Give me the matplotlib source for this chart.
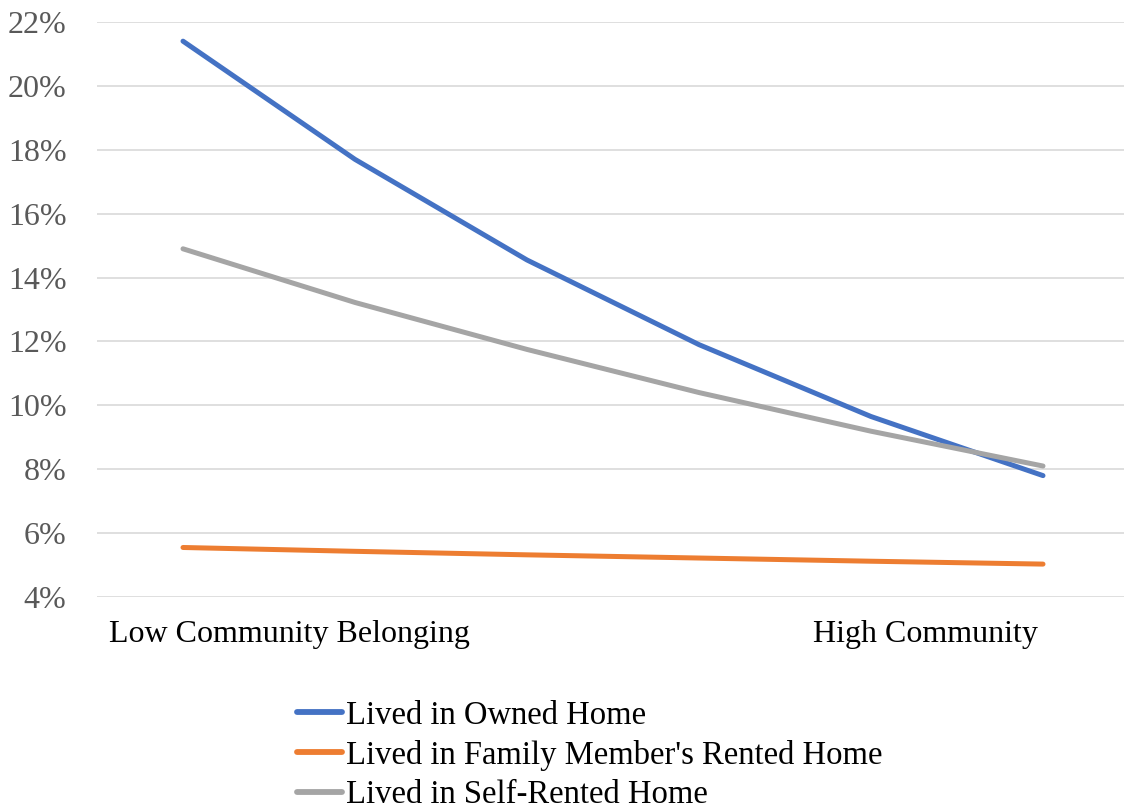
import matplotlib
matplotlib.use("Agg")
import matplotlib.pyplot as plt
from matplotlib.ticker import FuncFormatter

# Share of respondents by community belonging level (6 steps, low -> high)
steps = [0, 1, 2, 3, 4, 5]
owned = [21.4, 17.7, 14.55, 11.9, 9.65, 7.8]
family_rented = [5.55, 5.43, 5.32, 5.22, 5.12, 5.03]
self_rented = [14.9, 13.22, 11.75, 10.4, 9.19, 8.1]

series_names = ["Lived in Owned Home",
                "Lived in Family Member's Rented Home",
                "Lived in Self-Rented Home"]
colors = ["#4472C4", "#ED7D31", "#A5A5A5"]
y_ticks = [4, 6, 8, 10, 12, 14, 16, 18, 20, 22]

plt.rcParams["font.family"] = ["Liberation Serif", "DejaVu Serif"]

W, H = 1124, 808
fig = plt.figure(figsize=(W / 100, H / 100), dpi=100)
# axes placed in pixel terms: plot area from x=97 to 1129, y=22 to 597
left, right, top, bottom = 97, 1129, 22, 597
ax = fig.add_axes([left / W, 1 - bottom / H, (right - left) / W, (bottom - top) / H])

for vals, name, c in zip([owned, family_rented, self_rented], series_names, colors):
    ax.plot(steps, vals, color=c, lw=3.6, solid_capstyle="round",
            solid_joinstyle="round", label=name, zorder=3)

ax.set_xlim(-0.5, 5.5)
ax.set_ylim(4, 22)
ax.set_yticks(y_ticks)
ax.yaxis.set_major_formatter(FuncFormatter(lambda v, p: f"{v:.0f}%"))
ax.tick_params(axis="y", length=0, pad=22, labelsize=23, labelcolor="#595959")
ax.set_xticks([])
ax.grid(axis="y", color="#D9D9D9", lw=1.2, zorder=0)
for s in ax.spines.values():
    s.set_visible(False)

# category labels only at the two ends
trans = ax.get_xaxis_transform()
ax.text(0.62, -0.065, "Low Community Belonging", transform=trans,
        ha="center", va="center", fontsize=23, color="black")
ax.text(4.97, -0.065, "High Community", transform=trans,
        ha="right", va="center", fontsize=23, color="black")

leg = fig.legend(loc="upper left", bbox_to_anchor=(281 / W, 1 - 684 / H),
                 frameon=False, fontsize=23.5, handlelength=1.38,
                 handletextpad=0.1, labelspacing=0.27, borderpad=0)
for line in leg.get_lines():
    line.set_linewidth(4.2)
    line.set_solid_capstyle("round")

fig.savefig("out.png", dpi=100)
